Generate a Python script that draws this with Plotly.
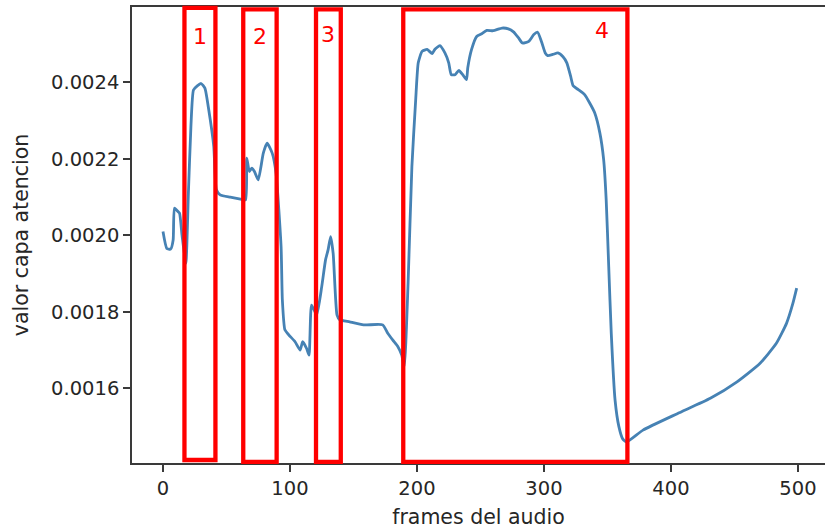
import plotly.graph_objects as go

frames = [0, 3, 6, 8, 9, 11, 13, 15, 18, 20, 22, 24, 27, 30, 33, 36, 40, 42, 45, 53, 61, 65,
          66, 68, 70, 72, 75, 79, 82, 86, 89, 93, 94, 96, 99, 104, 108, 110, 113, 115,
          117, 121, 125, 128, 130, 132, 134, 137, 139, 147, 158, 173, 177, 181, 185, 188,
          190, 193, 196, 199, 201, 204, 208, 212, 214, 218, 222, 225, 227, 230, 233, 236,
          239, 240, 243, 247, 251, 255, 260, 267, 272, 276, 280, 283, 288, 292, 295, 298,
          301, 303, 307, 311, 315, 318, 321, 323, 327, 332, 336, 340, 344, 347, 349, 351,
          353, 356, 359, 362, 365, 378, 405, 431, 452, 470, 483, 491, 496, 499]
valores = [0.00201, 0.001966, 0.001964, 0.001988, 0.002071, 0.002065, 0.002058, 0.00200,
           0.001927, 0.00211, 0.002285, 0.00238, 0.002391, 0.002397, 0.002385, 0.002329,
           0.002232, 0.00212, 0.002106, 0.0021, 0.002095, 0.002093,
           0.002202, 0.002167, 0.002176, 0.002167, 0.002145, 0.002215, 0.002241, 0.002215,
           0.002163, 0.00197, 0.001831, 0.001753, 0.00174, 0.001722, 0.0017, 0.001722,
           0.001705, 0.001687,
           0.001818, 0.001792, 0.001866, 0.001936, 0.001962, 0.001997, 0.001953, 0.001792,
           0.00178, 0.001774, 0.001766, 0.001766, 0.001744, 0.001726, 0.001709, 0.001687,
           0.001657, 0.001875, 0.00218, 0.002355, 0.002451, 0.002481, 0.002486, 0.002475,
           0.002486, 0.002496, 0.002477, 0.002451, 0.00242, 0.00242, 0.002431, 0.00242,
           0.002407, 0.002438, 0.002486, 0.00252, 0.002527, 0.002536, 0.002535, 0.002542,
           0.00254, 0.002532, 0.002516, 0.002503, 0.002507, 0.002525, 0.002531, 0.002507,
           0.002477, 0.00247, 0.002473, 0.002477, 0.002467, 0.002451, 0.002416, 0.002391,
           0.002381, 0.002368, 0.002346, 0.00232, 0.002268, 0.002198, 0.002093, 0.001918,
           0.001744, 0.001569, 0.0015, 0.001468, 0.00146, 0.001491, 0.001534, 0.001574,
           0.001617, 0.001665, 0.001718, 0.00177, 0.001822, 0.001862]

x_ticks = [0, 100, 200, 300, 400, 500]
y_ticks = [0.0016, 0.0018, 0.0020, 0.0022, 0.0024]
y_tick_labels = ["0.0016", "0.0018", "0.0020", "0.0022", "0.0024"]

region_labels = ["1", "2", "3", "4"]
region_x0 = [16.9, 63.2, 120.5, 189.2]
region_x1 = [41.3, 89.5, 140.0, 365.7]

FONT = "DejaVu Sans"
TXT = "#262626"

fig = go.Figure()
fig.add_trace(go.Scatter(
    x=frames, y=valores, mode="lines",
    line=dict(color="#4682b4", width=2.8, shape="spline", smoothing=0.5),
    hoverinfo="skip", showlegend=False,
))

shapes = []
annotations = []
label_pos = [(29.1, 0.935), (76.4, 0.935), (129.9, 0.939), (345.7, 0.948)]
for i, lab in enumerate(region_labels):
    y0 = 0.0066 if i == 0 else 0.0026
    y1 = 0.998 if i == 0 else 0.995
    shapes.append(dict(type="rect", xref="x", yref="paper",
                       x0=region_x0[i], x1=region_x1[i], y0=y0, y1=y1,
                       line=dict(color="#ff0000", width=4.3), fillcolor="rgba(0,0,0,0)"))
    lx, ly = label_pos[i]
    annotations.append(dict(text=lab, x=lx, y=ly, xref="x", yref="paper",
                            showarrow=False, xanchor="center", yanchor="middle",
                            font=dict(family=FONT, size=22, color="#ff0000")))

fig.update_layout(
    width=825, height=529,
    margin=dict(l=132, r=0, t=7, b=66),
    paper_bgcolor="white", plot_bgcolor="white",
    font=dict(family=FONT, size=19, color=TXT),
    shapes=shapes, annotations=annotations,
    xaxis=dict(
        range=[-24.4, 521.3], tickvals=x_ticks, ticktext=[str(v) for v in x_ticks],
        showgrid=False, zeroline=False,
        showline=True, linecolor="#3a3a3a", linewidth=1.6, mirror=True,
        ticks="outside", ticklen=7, tickwidth=1.6, tickcolor="#3a3a3a",
        tickfont=dict(family=FONT, size=19.5, color=TXT),
        title=dict(text="frames del audio", standoff=10,
                   font=dict(family=FONT, size=20.5, color=TXT)),
    ),
    yaxis=dict(
        range=[0.001405, 0.002597], tickvals=y_ticks, ticktext=y_tick_labels,
        showgrid=False, zeroline=False,
        showline=True, linecolor="#3a3a3a", linewidth=1.6, mirror=False,
        ticks="outside", ticklen=7, tickwidth=1.6, tickcolor="#3a3a3a",
        tickfont=dict(family=FONT, size=19.5, color=TXT),
        title=dict(text="valor capa atencion", standoff=17,
                   font=dict(family=FONT, size=20.5, color=TXT)),
    ),
)

fig.write_html("out.html")
